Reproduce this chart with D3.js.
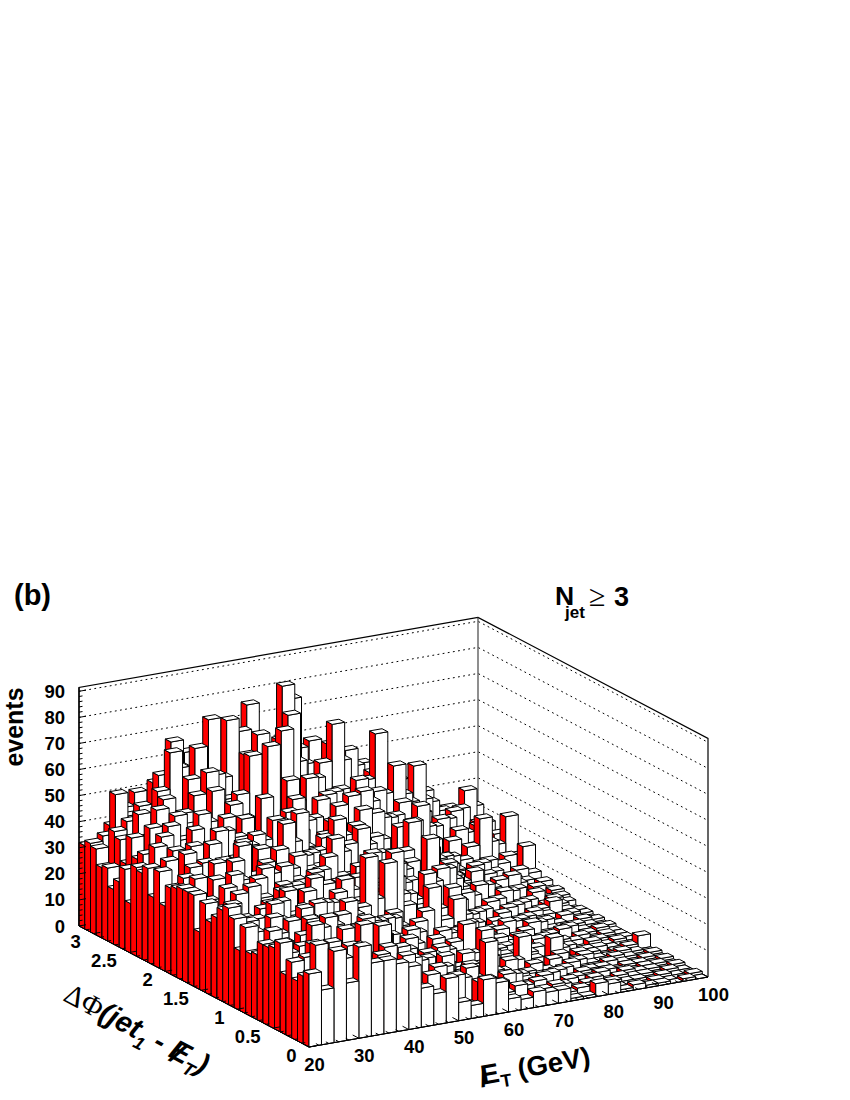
<!DOCTYPE html>
<html>
<head>
<meta charset="utf-8">
<style>html,body{margin:0;padding:0;background:#fff}svg{display:block}text{font-family:"Liberation Sans",Arial,sans-serif;font-weight:bold;fill:#000}</style>
<script src="https://cdnjs.cloudflare.com/ajax/libs/d3/7.8.5/d3.min.js"></script>
</head>
<body>
<svg id="c" width="850" height="1100"></svg>
<script>
// Bin edges
const etStart = 20, etStep = 2.5, phiStep = 0.08;
// Tick labels
const zTicks = [0,10,20,30,40,50,60,70,80,90];
const etTicks = [20,30,40,50,60,70,80,90,100];
const phiTicks = [0,0.5,1,1.5,2,2.5,3];
// Events per bin: one row per delta-phi bin, 32 missing-ET bins each
const phi00 = [28,21,35,22,35,28,28,26, 24,15,12,17,7,5,14,12, 5,4,6,5,5,1,1,5, 4,1,2,1,1,0,1,0];
const phi01 = [26,37,24,30,26,22,29,19, 27,14,18,10,16,4,12,8, 6,8,3,5,6,2,3,2, 2,1,1,0,1,0,0,1];
const phi02 = [23,25,31,24,33,20,26,30, 17,24,11,19,8,13,6,11, 9,3,6,7,2,4,2,3, 1,2,1,1,0,1,0,0];
const phi03 = [29,30,21,34,25,31,19,37, 22,13,21,9,17,11,15,7, 5,10,4,3,7,2,4,1, 3,1,2,1,1,0,1,0];
const phi04 = [23,20,33,27,18,29,37,24, 16,26,14,20,10,7,12,9, 22,4,8,5,3,6,2,3, 2,3,0,2,1,1,0,1];
const phi05 = [34,26,24,30,28,35,21,27, 30,12,23,16,8,18,5,13, 7,9,3,6,4,2,5,1, 3,1,2,1,0,1,1,0];
const phi06 = [31,28,30,37,23,26,33,18, 25,21,15,11,19,13,9,6, 11,5,7,2,5,3,2,4, 1,2,2,0,1,1,0,1];
const phi07 = [30,31,19,26,34,22,29,32, 14,27,18,24,7,16,12,10, 4,8,5,9,2,6,3,2, 4,1,1,2,1,0,1,0];
const phi08 = [30,22,27,31,20,36,25,21, 33,16,25,12,20,9,17,8, 13,6,10,3,7,4,2,5, 2,3,1,1,2,1,0,1];
const phi09 = [25,33,24,18,35,27,31,28, 19,30,13,22,15,6,11,14, 8,11,19,6,4,14,5,3, 5,2,3,1,1,2,1,0];
const phi10 = [24,26,30,34,38,19,24,33, 27,17,28,10,18,14,8,12, 15,21,5,9,7,3,6,2, 10,1,3,2,0,1,2,5];
const phi11 = [33,21,35,25,29,32,18,26, 36,24,15,27,11,21,7,16, 6,10,13,4,8,5,2,6, 3,4,1,2,2,1,1,1];
const phi12 = [23,29,26,32,24,27,36,22, 20,29,22,13,25,9,18,10, 17,7,11,8,3,7,4,5, 2,5,3,1,3,1,2,1];
const phi13 = [34,32,20,37,28,23,30,34, 28,18,30,16,21,13,14,8, 12,14,6,10,5,9,3,4, 6,2,4,3,1,2,1,1];
const phi14 = [37,24,31,22,36,30,26,19, 32,27,17,47,15,24,10,19, 9,5,13,7,11,2,6,7, 3,5,2,1,3,1,2,1];
const phi15 = [35,30,25,33,21,38,31,28, 23,34,25,19,29,42,17,12, 21,11,8,12,4,8,9,3, 7,2,4,5,1,2,3,1];
const phi16 = [31,35,29,24,33,37,22,35, 30,16,37,28,24,13,44,23, 10,28,15,22,12,6,4,10, 5,8,3,2,4,2,1,2];
const phi17 = [28,26,37,39,34,20,32,27, 38,35,21,31,18,27,14,26, 16,9,18,6,14,10,7,3, 8,4,6,3,2,3,2,1];
const phi18 = [34,31,22,29,40,28,36,35, 21,33,29,17,34,20,28,11, 24,18,7,15,9,12,5,8, 4,7,2,5,3,1,3,2];
const phi19 = [22,28,37,25,31,42,24,30, 27,37,19,32,22,30,15,25, 13,20,29,11,22,4,11,6, 9,3,6,4,2,4,2,1];
const phi20 = [35,32,29,40,23,33,38,40, 34,25,36,24,15,35,21,16, 28,12,17,24,8,15,7,10, 5,9,3,6,4,2,3,2];
const phi21 = [35,24,38,30,36,27,41,29, 37,31,22,39,31,18,32,26, 19,24,11,20,27,10,16,4, 11,6,8,2,5,7,3,2];
const phi22 = [35,38,27,33,42,31,25,36, 28,40,34,20,44,29,24,36, 15,30,23,9,18,25,6,13, 7,10,4,7,3,5,4,1];
const phi23 = [34,29,35,41,26,46,34,31, 42,23,38,33,27,37,20,28, 34,14,26,18,12,22,19,5, 15,8,11,5,6,2,5,3];
const phi24 = [33,36,31,24,40,35,29,42, 33,50,28,37,31,25,38,43, 22,32,16,27,20,8,24,14, 9,13,6,9,3,7,4,4];
const phi25 = [25,31,38,39,32,27,44,26, 38,30,41,24,36,32,28,21, 35,26,19,30,14,33,11,17, 12,7,10,4,8,5,3,5];
const phi26 = [37,27,42,33,44,30,37,41, 35,27,33,50,26,39,45,31, 24,36,28,15,39,21,18,8, 13,16,6,11,12,3,6,4];
const phi27 = [26,39,32,43,36,47,28,38, 43,36,25,44,35,30,22,37, 40,19,33,27,24,12,26,16, 10,14,8,5,9,7,4,6];
const phi28 = [36,33,41,29,38,34,45,42, 30,39,46,32,40,28,37,26, 32,44,42,22,35,29,13,20, 17,9,15,11,5,8,6,3];
const phi29 = [33,42,30,37,46,39,35,31, 47,34,37,43,29,42,33,40, 27,35,24,38,18,31,27,11, 19,13,7,14,10,4,9,7];
const phi30 = [34,28,44,36,31,50,41,47, 45,39,52,28,45,36,41,30, 44,47,48,26,36,23,33,24, 12,17,15,8,13,11,5,16];
const phi31 = [19,37,33,46,40,34,45,36, 50,44,35,70,38,48,34,46, 31,38,29,42,22,35,19,37, 23,16,11,18,28,9,12,8];
const phi32 = [31,34,45,30,48,43,38,55, 41,52,66,46,42,54,39,33, 46,28,40,31,44,25,38,21, 27,14,20,12,9,17,7,10];
const phi33 = [25,41,40,50,41,47,53,61, 44,37,49,57,35,72,44,52, 37,45,27,48,33,41,51,29, 18,25,11,22,15,8,14,24];
const phi34 = [21,30,48,39,52,36,58,46, 58,48,41,35,60,48,76,40, 50,33,44,26,46,63,24,38, 30,15,26,13,19,21,10,11];
const phi35 = [28,38,32,44,54,68,42,68, 36,55,47,62,69,44,86,56, 39,54,68,37,30,47,40,20, 33,28,17,24,12,16,9,15];
const phi36 = [27,40,43,48,38,49,60,39, 53,51,75,70,43,58,50,79, 47,41,34,52,42,28,44,36, 26,45,22,18,25,10,19,13];
const phi37 = [33,28,36,34,45,57,69,50, 46,75,52,41,63,49,56,38, 58,36,47,31,54,39,25,42, 34,21,30,16,20,24,14,17];
const phi38 = [34,36,51,42,33,53,46,57, 48,40,59,63,46,55,42,61, 35,50,44,56,33,46,40,27, 38,31,19,27,23,18,29,12];
const phi39 = [32,27,38,44,49,41,52,47, 61,54,44,57,50,75,58,46, 53,43,57,38,48,35,45,41, 28,36,25,30,16,22,20,21];
const rows = [phi00,phi01,phi02,phi03,phi04,phi05,phi06,phi07,phi08,phi09,phi10,phi11,phi12,phi13,phi14,phi15,phi16,phi17,phi18,phi19,
              phi20,phi21,phi22,phi23,phi24,phi25,phi26,phi27,phi28,phi29,phi30,phi31,phi32,phi33,phi34,phi35,phi36,phi37,phi38,phi39];

// Oblique projection, front corner of the floor is (20 GeV, 0)
const etX = d3.scaleLinear().domain([20,100]).range([309,708]);
const etY = d3.scaleLinear().domain([20,100]).range([1047,977]);
const phiX = d3.scaleLinear().domain([0,3.2]).range([0,-230]);
const phiY = d3.scaleLinear().domain([0,3.2]).range([0,-121]);
const zY = d3.scaleLinear().domain([0,91.5]).range([0,-238.6]);
const zTop = zY.domain()[1];
const P = (e,p,z) => [etX(e)+phiX(p), etY(e)+phiY(p)+zY(z)];
const poly = pts => pts.map(q => q.map(v => v.toFixed(2)).join(",")).join(" ");

const svg = d3.select("#c");
const phiMax = 3.2;

// Walls
const grid = svg.append("g").attr("fill","none").attr("stroke","#000").attr("stroke-width",1).attr("stroke-dasharray","1.8,3.4");
zTicks.filter(z => z>0).forEach(z => {
  grid.append("polyline").attr("points", poly([P(20,phiMax,z),P(100,phiMax,z),P(100,0,z)]));
});
const frame = svg.append("g").attr("fill","none").attr("stroke","#000");
frame.append("polyline").attr("points", poly([P(20,phiMax,0),P(20,phiMax,zTop),P(100,phiMax,zTop),P(100,0,zTop),P(100,0,0)])).attr("stroke-width",1.2);
frame.append("line").attr("x1",P(100,phiMax,0)[0]).attr("y1",P(100,phiMax,0)[1]).attr("x2",P(100,phiMax,zTop)[0]).attr("y2",P(100,phiMax,zTop)[1]).attr("stroke","#444").attr("stroke-width",1.2);

// Floor
svg.append("polygon").attr("points", poly([P(20,0,0),P(100,0,0),P(100,phiMax,0),P(20,phiMax,0)])).attr("fill","#fff").attr("stroke","#000").attr("stroke-width",1);

// Bars, back to front
const bars = svg.append("g").attr("stroke","#000").attr("stroke-width",1).attr("stroke-linejoin","round");
const cells = [];
d3.range(rows.length-1,-1,-1).forEach(j => d3.range(rows[j].length-1,-1,-1).forEach(i => cells.push({i,j,v:rows[j][i]})));
cells.forEach(c => {
  const e0 = etStart+c.i*etStep, e1 = e0+etStep, p0 = c.j*phiStep, p1 = p0+phiStep;
  const g = bars.append("g");
  if (c.v>0) {
    g.append("polygon").attr("points", poly([P(e0,p0,0),P(e0,p1,0),P(e0,p1,c.v),P(e0,p0,c.v)])).attr("fill","#f00");
    g.append("polygon").attr("points", poly([P(e0,p0,0),P(e1,p0,0),P(e1,p0,c.v),P(e0,p0,c.v)])).attr("fill","#fff");
  }
  g.append("polygon").attr("points", poly([P(e0,p0,c.v),P(e1,p0,c.v),P(e1,p1,c.v),P(e0,p1,c.v)])).attr("fill","#fff");
});

// Axes and ticks
const axes = svg.append("g").attr("stroke","#000").attr("fill","none").attr("stroke-width",1);
const seg = (a,dx,dy) => axes.append("line").attr("x1",a[0]).attr("y1",a[1]).attr("x2",a[0]+dx).attr("y2",a[1]+dy);
axes.append("line").attr("x1",P(20,phiMax,0)[0]).attr("y1",P(20,phiMax,0)[1]).attr("x2",P(20,phiMax,zTop)[0]).attr("y2",P(20,phiMax,zTop)[1]).attr("stroke-width",1.3);
d3.range(0,91,2).forEach(z => { const L = z%10===0 ? 7 : 3.5; seg(P(20,phiMax,z), L, -L*0.175); });
d3.range(20,100.1,2).forEach(e => { const L = e%10===0 ? 7 : 3.5; seg(P(e,0,0), -L*0.885, -L*0.466); });
d3.range(0,3.21,0.1).forEach((p,k) => { const L = k%5===0 ? 7 : 3.5; seg(P(20,p,0), L*0.985, -L*0.173); });
axes.append("line").attr("x1",P(20,0,0)[0]).attr("y1",P(20,0,0)[1]).attr("x2",P(100,0,0)[0]).attr("y2",P(100,0,0)[1]);
axes.append("line").attr("x1",P(20,0,0)[0]).attr("y1",P(20,0,0)[1]).attr("x2",P(20,phiMax,0)[0]).attr("y2",P(20,phiMax,0)[1]);

// Tick labels
const lab = svg.append("g").style("font-size","18.5px");
zTicks.forEach(z => { const q = P(20,phiMax,z);
  lab.append("text").attr("x",65).attr("y",q[1]+6.5).attr("text-anchor","end").text(z); });
etTicks.forEach(e => { const q = P(e,0,0);
  lab.append("text").attr("x",q[0]+5.5).attr("y",q[1]+23.5).attr("text-anchor","middle").text(e); });
phiTicks.forEach(p => { const q = P(20,p,0);
  lab.append("text").attr("x",q[0]-12.5).attr("y",q[1]+14.5).attr("text-anchor","end").text(p); });

// Titles
svg.append("text").attr("x",14).attr("y",605).style("font-size","29px").text("(b)");
svg.append("text").attr("transform","translate(23,727) rotate(-90)").attr("text-anchor","middle").style("font-size","25px").text("events");
const nj = svg.append("g");
nj.append("text").attr("x",555).attr("y",605).style("font-size","26.5px").text("N");
nj.append("text").attr("x",565).attr("y",618).style("font-size","17px").text("jet");
nj.append("text").attr("x",589).attr("y",606).style("font-size","30px").style("font-weight","normal").style("font-family","'Liberation Serif',serif").text("≥");
nj.append("text").attr("x",614).attr("y",606).style("font-size","27px").text("3");

const tp = svg.append("text").attr("transform","translate(62,1000) rotate(28)").style("font-size","29px").style("font-style","italic");
tp.append("tspan").style("font-weight","normal").style("font-style","normal").style("font-family","'Liberation Serif',serif").text("ΔΦ");
tp.append("tspan").text("(jet");
tp.append("tspan").attr("dy",8).style("font-size","18px").text("1");
tp.append("tspan").attr("dy",-8).text(" - E");
tp.append("tspan").attr("dx","-0.55em").attr("dy",3).text("/");
tp.append("tspan").attr("dx",8).attr("dy",5).style("font-size","18px").text("T");
tp.append("tspan").attr("dy",-8).text(")");

const te = svg.append("text").attr("transform","translate(481,1085) rotate(-10)").style("font-size","27.5px");
te.append("tspan").text("E");
te.append("tspan").attr("dx","-0.72em").attr("dy",2).text("/");
te.append("tspan").attr("dx",12.5).attr("dy",4).style("font-size","18px").text("T");
te.append("tspan").attr("dy",-6).text(" (GeV)");
</script>
</body>
</html>
